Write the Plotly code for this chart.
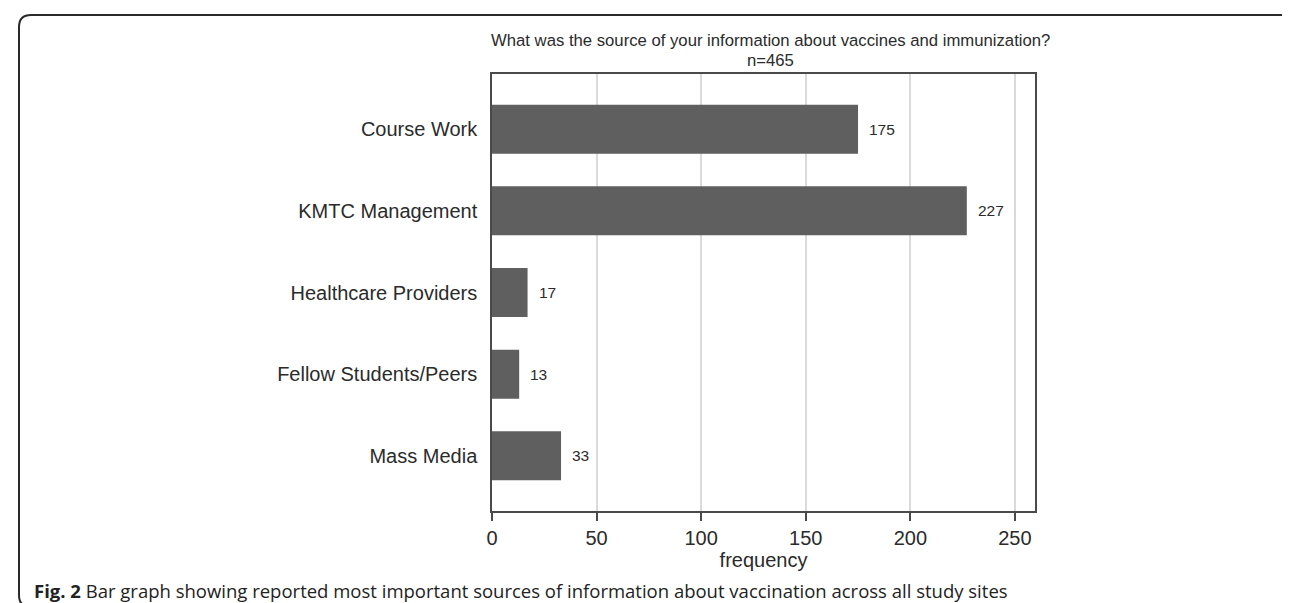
import plotly.graph_objects as go

categories = ["Course Work", "KMTC Management", "Healthcare Providers", "Fellow Students/Peers", "Mass Media"]
frequency = [175, 227, 17, 13, 33]
x_ticks = [0, 50, 100, 150, 200, 250]
title_text = "What was the source of your information about vaccines and immunization?"
subtitle_text = "n=465"
caption_bold = "Fig. 2"
caption_text = " Bar graph showing reported most important sources of information about vaccination across all study sites"

W, H = 1290, 603
L, R, T, B = 484, 1027, 66, 503  # plot area in pixels


def px(xp):
    return (xp - L) / (R - L)


def py(yp):
    return (B - yp) / (B - T)


FONT = "Liberation Sans, Arial, sans-serif"
TXT = "#2b2b2b"

fig = go.Figure()
fig.add_trace(go.Bar(
    x=frequency, y=categories, orientation="h",
    marker=dict(color="#5f5f5f", line=dict(width=0)),
    width=0.6, hoverinfo="x+y",
))

annotations = []
for c, v in zip(categories, frequency):
    annotations.append(dict(
        x=v, y=c, xref="x", yref="y", text=str(v), showarrow=False,
        xanchor="left", yanchor="middle", xshift=9,
        font=dict(family=FONT, size=15.5, color=TXT),
    ))

annotations.append(dict(x=px(762), y=py(32), xref="paper", yref="paper", text=title_text,
                        showarrow=False, xanchor="center", yanchor="middle",
                        font=dict(family=FONT, size=16.7, color=TXT)))
annotations.append(dict(x=px(762), y=py(53), xref="paper", yref="paper", text=subtitle_text,
                        showarrow=False, xanchor="center", yanchor="middle",
                        font=dict(family=FONT, size=16.7, color=TXT)))
annotations.append(dict(x=px(24), y=py(582), xref="paper", yref="paper",
                        text="<b>" + caption_bold + "</b>" + caption_text,
                        showarrow=False, xanchor="left", yanchor="middle",
                        font=dict(family="Open Sans, Noto Sans, sans-serif", size=18.5, color="#222222")))

# outer rounded frame
x0, x1, y0, y1, r = 11, 1287, 7, 599, 12
pts = [
    ("M", [(x0 + r, y0)]), ("L", [(x1 - r, y0)]), ("Q", [(x1, y0), (x1, y0 + r)]),
    ("L", [(x1, y1 - r)]), ("Q", [(x1, y1), (x1 - r, y1)]), ("L", [(x0 + r, y1)]),
    ("Q", [(x0, y1), (x0, y1 - r)]), ("L", [(x0, y0 + r)]), ("Q", [(x0, y0), (x0 + r, y0)]),
]
path = ""
for cmd, ps in pts:
    path += cmd + " " + " ".join(f"{px(a):.5f},{py(b):.5f}" for a, b in ps) + " "
path += "Z"

fig.update_layout(
    width=W, height=H,
    margin=dict(l=L, r=W - R, t=T, b=H - B),
    paper_bgcolor="white", plot_bgcolor="white",
    showlegend=False,
    annotations=annotations,
    shapes=[dict(type="path", path=path, xref="paper", yref="paper",
                 line=dict(color="#2a2a2a", width=2))],
    xaxis=dict(
        range=[0, 259.6], tickmode="array", tickvals=x_ticks, ticktext=[str(t) for t in x_ticks],
        showgrid=True, gridcolor="#dadada", gridwidth=1.5, zeroline=False,
        showline=True, linecolor="#4a4a4a", linewidth=1.5, mirror=True,
        ticks="outside", ticklen=8, tickcolor="#4a4a4a", tickwidth=1.5,
        tickfont=dict(family=FONT, size=20, color=TXT),
        title=dict(text="frequency", font=dict(family=FONT, size=20, color=TXT), standoff=0),
    ),
    yaxis=dict(
        type="category", categoryorder="array", categoryarray=categories,
        range=[4.675, -0.675],
        showgrid=False, zeroline=False,
        showline=True, linecolor="#4a4a4a", linewidth=1.5, mirror=True,
        ticks="", ticklabelstandoff=9,
        tickfont=dict(family=FONT, size=20, color=TXT),
    ),
)

fig.write_html("out.html")
